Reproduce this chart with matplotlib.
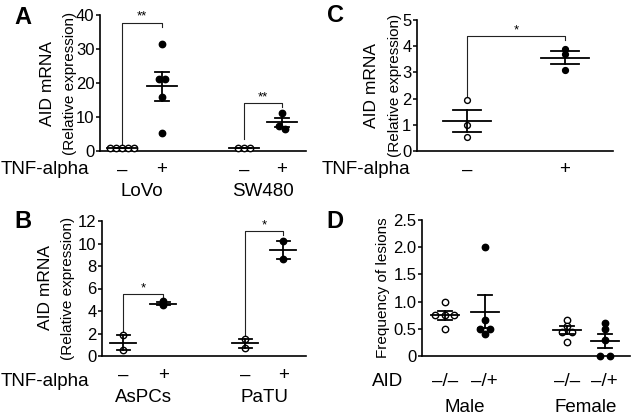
import numpy as np
import matplotlib
matplotlib.use("Agg")
import matplotlib.pyplot as plt

plt.rcParams['font.family'] = ['Liberation Sans', 'DejaVu Sans']

# ---------------- data ----------------
# A: AID mRNA, colon cancer lines
a_groups = ["LoVo", "SW480"]
a_lovo_ctrl = [1.0, 1.0, 1.0, 1.0, 1.0]
a_lovo_tnf = [31.6, 21.3, 21.3, 15.9, 5.3]
a_sw_ctrl = [1.0, 1.0, 1.0]
a_sw_tnf = [11.2, 7.5, 6.6]

# B: AID mRNA, pancreatic lines
b_groups = ["AsPCs", "PaTU"]
b_asp_ctrl = [1.85, 0.5]
b_asp_tnf = [4.5, 4.65, 4.85]
b_patu_ctrl = [1.55, 0.7]
b_patu_tnf = [10.2, 8.6]

# C: AID mRNA, single comparison
c_ctrl = [1.94, 0.98, 0.54]
c_tnf = [3.89, 3.70, 3.11]

# D: frequency of lesions
d_groups = ["Male", "Female"]
d_male_ko = [1.0, 0.75, 0.75, 0.75, 0.5]
d_male_het = [2.0, 0.67, 0.5, 0.5, 0.4]
d_fem_ko = [0.67, 0.55, 0.45, 0.45, 0.25]
d_fem_het = [0.6, 0.5, 0.3, 0.0, 0.0]

tnf_labels = ["\u2013", "+"]
aid_labels = ["\u2013/\u2013", "\u2013/+"]


def swarm(vals, tol, step):
    # spread points of (nearly) equal value sideways
    vals = np.asarray(vals, float)
    offs = np.zeros(len(vals))
    used = np.zeros(len(vals), bool)
    for i in range(len(vals)):
        if used[i]:
            continue
        idx = [j for j in range(len(vals)) if not used[j] and abs(vals[j] - vals[i]) < tol]
        for k, j in enumerate(idx):
            offs[j] = (k - (len(idx) - 1) / 2) * step
            used[j] = True
    return offs


def dotplot(ax, x, vals, filled, tol, step, mean_hw, cap_hw, ms=4.6):
    vals = np.asarray(vals, float)
    xs = x + swarm(vals, tol, step)
    if filled:
        ax.plot(xs, vals, 'o', color='black', ms=ms, zorder=3, clip_on=False)
    else:
        ax.plot(xs, vals, 'o', mfc='white', mec='black', mew=1.0, ms=ms,
                zorder=3, clip_on=False)
    m = vals.mean()
    sem = vals.std(ddof=1) / np.sqrt(len(vals))
    ax.plot([x - mean_hw, x + mean_hw], [m, m], color='black', lw=1.3, zorder=4)
    ax.plot([x, x], [m - sem, m + sem], color='black', lw=1.3, zorder=4)
    for yy in (m - sem, m + sem):
        ax.plot([x - cap_hw, x + cap_hw], [yy, yy], color='black', lw=1.3, zorder=4)


def bracket(ax, x1, x2, top, lbot, rbot, txt):
    ax.plot([x1, x1, x2, x2], [lbot, top, top, rbot], color='#222222', lw=0.8,
            zorder=2, clip_on=False)
    ax.text((x1 + x2) / 2, top, txt, ha='center', va='bottom', fontsize=9.5)


def style(ax, ylim, ticks, ticklabels=None):
    ax.set_ylim(*ylim)
    ax.set_yticks(ticks)
    if ticklabels is not None:
        ax.set_yticklabels(ticklabels)
    ax.set_xticks([])
    for s in ('top', 'right'):
        ax.spines[s].set_visible(False)
    for s in ('left', 'bottom'):
        ax.spines[s].set_linewidth(1.2)
    ax.tick_params(axis='y', labelsize=12, length=3, width=1.1, pad=1)


def under(ax, x, y_px, txt, size=13.5):
    # text placed a fixed number of pixels below the axis
    ax.annotate(txt, xy=(x, 0), xycoords=('data', 'axes fraction'),
                xytext=(0, -y_px), textcoords='offset pixels',
                ha='center', va='center', fontsize=size, annotation_clip=False)


fig = plt.figure(figsize=(6.31, 4.17), dpi=100)
W, H = 631, 417


def add_axes(l, r, t, b):
    return fig.add_axes([l / W, 1 - b / H, (r - l) / W, (b - t) / H])


pos4 = [0, 1, 3.05, 4]

# ---------- A ----------
axA = add_axes(100, 306, 15, 151)
axA.set_xlim(-0.55, 4.6)
style(axA, (0, 40), [0, 10, 20, 30, 40])
for x, v, f in zip(pos4, [a_lovo_ctrl, a_lovo_tnf, a_sw_ctrl, a_sw_tnf],
                   [False, True, False, True]):
    dotplot(axA, x, v, f, tol=1.5, step=0.15, mean_hw=0.37, cap_hw=0.18)
bracket(axA, pos4[0], pos4[1], 37.7, 2.0, 36.4, "**")
bracket(axA, pos4[2], pos4[3], 14.0, 3.6, 12.8, "**")

# ---------- B ----------
axB = add_axes(102, 306, 221, 356)
axB.set_xlim(-0.53, 4.57)
style(axB, (0, 12), [0, 2, 4, 6, 8, 10, 12])
for x, v, f in zip(pos4, [b_asp_ctrl, b_asp_tnf, b_patu_ctrl, b_patu_tnf],
                   [False, True, False, True]):
    dotplot(axB, x, v, f, tol=0.12, step=0.15, mean_hw=0.33, cap_hw=0.16)
bracket(axB, pos4[0], pos4[1], 5.5, 2.0, 5.17, "*")
bracket(axB, pos4[2], pos4[3], 11.1, 1.7, 10.75, "*")

# ---------- C ----------
axC = add_axes(417, 613, 20, 151)
axC.set_xlim(-0.51, 1.49)
style(axC, (0, 5), [0, 1, 2, 3, 4, 5])
for x, v, f in zip([0, 1], [c_ctrl, c_tnf], [False, True]):
    dotplot(axC, x, v, f, tol=0.12, step=0.08, mean_hw=0.24, cap_hw=0.14, ms=4.2)
bracket(axC, 0, 1, 4.39, 2.1, 4.23, "*")

# ---------- D ----------
axD = add_axes(422, 630, 220, 356)
axD.set_xlim(-0.57, 4.63)
style(axD, (0, 2.5), [0, 0.5, 1.0, 1.5, 2.0, 2.5],
      ["0", "0.5", "1.0", "1.5", "2.0", "2.5"])
for x, v, f in zip(pos4, [d_male_ko, d_male_het, d_fem_ko, d_fem_het],
                   [False, True, False, True]):
    dotplot(axD, x, v, f, tol=0.04, step=0.24, mean_hw=0.35, cap_hw=0.18)

# ---------- labels under axes ----------
for ax, names in ((axA, a_groups), (axB, b_groups)):
    for x, lab in zip(pos4, tnf_labels * 2):
        under(ax, x, 19, lab)
    under(ax, (pos4[0] + pos4[1]) / 2, 41, names[0])
    under(ax, (pos4[2] + pos4[3]) / 2, 41, names[1])
for x, lab in zip([0, 1], tnf_labels):
    under(axC, x, 19, lab)
for x, lab in zip(pos4, aid_labels * 2):
    under(axD, x, 26, lab)
under(axD, (pos4[0] + pos4[1]) / 2, 51, d_groups[0])
under(axD, (pos4[2] + pos4[3]) / 2, 51, d_groups[1])

fig.text(1 / W, 1 - 170 / H, "TNF-alpha", fontsize=13.5, va='center', ha='left')
fig.text(1 / W, 1 - 382 / H, "TNF-alpha", fontsize=13.5, va='center', ha='left')
fig.text(322 / W, 1 - 170 / H, "TNF-alpha", fontsize=13.5, va='center', ha='left')
fig.text(372 / W, 1 - 382 / H, "AID", fontsize=13.5, va='center', ha='left')

# y labels
for xa, xb, yc in ((47, 70, 83), (45, 68, 288), (372, 395, 85)):
    fig.text(xa / W, 1 - yc / H, "AID mRNA", rotation=90, fontsize=12.5,
             ha='center', va='center')
    fig.text(xb / W, 1 - yc / H, "(Relative expression)", rotation=90,
             fontsize=11, ha='center', va='center')
fig.text(383 / W, 1 - 288 / H, "Frequency of lesions", rotation=90, fontsize=11,
         ha='center', va='center')

# panel letters
for x, y, letter in ((23, 17, "A"), (336, 16, "C"), (23, 222, "B"), (335, 221, "D")):
    fig.text(x / W, 1 - y / H, letter, fontsize=17, fontweight='bold',
             ha='center', va='center')

fig.savefig("out.png", dpi=100)
